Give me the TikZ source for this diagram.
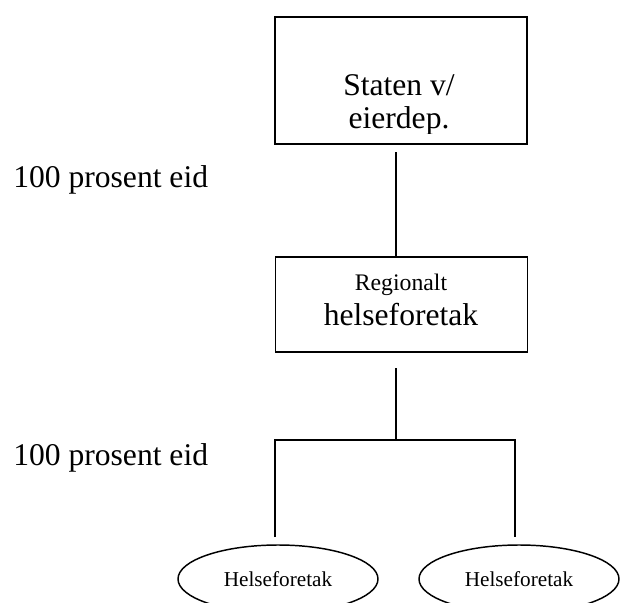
\documentclass[tikz,border=0pt]{standalone}
\usepackage{fontspec}
\setmainfont{Liberation Serif}
\usetikzlibrary{shapes.geometric}
\tikzset{
  box/.style={draw, line width=1.1pt, minimum width=189pt, minimum height=71.25pt, inner sep=0pt},
  unit/.style={draw, ellipse, line width=1.1pt, minimum width=150pt, minimum height=51pt, inner sep=0pt, font=\fontsize{15.9}{18}\selectfont},
  link/.style={line width=1.1pt},
  big/.style={font=\fontsize{23.7}{28}\selectfont, inner sep=0pt, anchor=base},
  small/.style={font=\fontsize{17.8}{21}\selectfont, inner sep=0pt, anchor=base}
}
\begin{document}
\begin{tikzpicture}[x=0.75pt, y=-0.75pt]
\useasboundingbox (0,0) rectangle (622,603);
\clip (0,0) rectangle (622,603);

% Owner
\node[box, minimum height=95.25pt] (staten) at (401,80.5) {};
\begin{scope}
\clip (276,18) rectangle (526,133);
\node[big] (staten1) at (399,95) {Staten v/};
\node[big] (staten2) at (399,128) {eierdep.};
\end{scope}

% Regional company
\node[box] (regional) at (401.5,304.5) {};
\node[small] (reg1) at (401,290) {Regionalt};
\node[big] (reg2) at (401,325) {helseforetak};

% Local companies
\node[unit] (hf1) at (278,579) {Helseforetak};
\node[unit] (hf2) at (519,579) {Helseforetak};

% Ownership labels
\node[big, anchor=base west] (own1) at (13,187) {100 prosent eid};
\node[big, anchor=base west] (own2) at (13,465) {100 prosent eid};

% Lines
\coordinate (s1) at (396,152);
\coordinate (r1) at (396,368);
\coordinate (fork) at (396,440);
\coordinate (forkL) at (275,440);
\coordinate (forkR) at (515,440);
\coordinate (endL) at (275,537);
\coordinate (endR) at (515,537);
\draw[link] (s1) -- (s1 |- regional.north);
\draw[link] (r1) -- (fork);
\draw[link] (endL) -- (forkL) -- (forkR) -- (endR);
\end{tikzpicture}
\end{document}
